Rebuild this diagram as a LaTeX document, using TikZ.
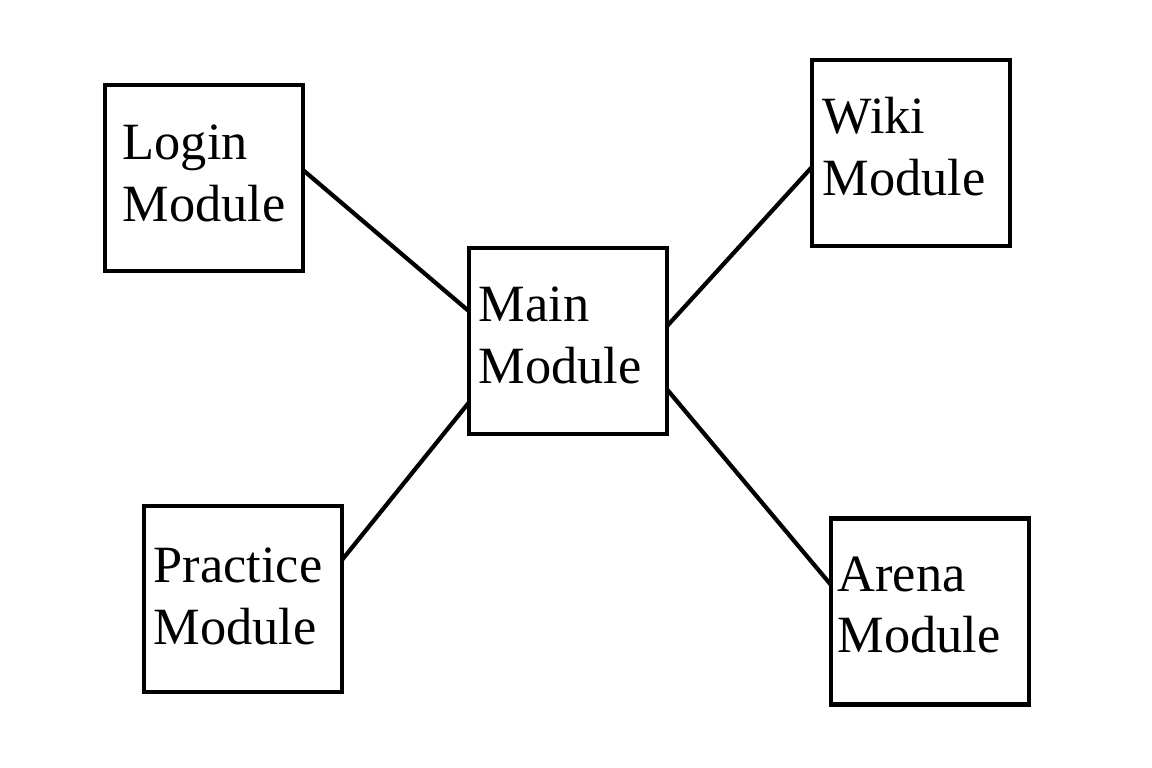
\documentclass[tikz,border=0pt]{standalone}
\usepackage{fontspec}
\setmainfont{Liberation Serif}
\usetikzlibrary{calc}
\begin{document}
\begin{tikzpicture}[module/.style={minimum width=1.98cm,minimum height=1.86cm,outer sep=0pt,draw=black,line width=1.35pt},
        modname/.style={anchor=base west,inner sep=0pt,align=left,font=\fontsize{14.9pt}{17.4pt}\selectfont},
        link/.style={line width=1.2pt}]
        \useasboundingbox (0,0) rectangle (11.52,-7.67);

        \node [module] at (2.04,-1.78) (Login) {};
        \node [module] at (5.68,-3.41) (Main) {};
        \node [module] at (9.11,-1.53) (Wiki) {};
        \node [module] at (2.43,-5.99) (Practice) {};
        \node [module] at (9.30,-6.115) (Arena) {};

        % base anchor sits on the second line
        \node [modname] at ($(Login.north west)+(.17,-1.36)$) (LoginText) {Login\\Module};
        \node [modname] at ($(Main.north west)+(.09,-1.35)$) (MainText) {Main\\Module};
        \node [modname] at ($(Wiki.north west)+(.10,-1.35)$) (WikiText) {Wiki\\Module};
        \node [modname] at ($(Practice.north west)+(.09,-1.38)$) (PracticeText) {Practice\\Module};
        \node [modname] at ($(Arena.north west)+(.06,-1.34)$) (ArenaText) {Arena\\Module};

        \draw [link] ($(Login.north east)!.457!(Login.south east)$) -- ($(Main.north west)!.34!(Main.south west)$);
        \draw [link] ($(Practice.north east)!.29!(Practice.south east)$) -- ($(Main.north west)!.83!(Main.south west)$);
        \draw [link] ($(Main.north east)!.42!(Main.south east)$) -- ($(Wiki.north west)!.575!(Wiki.south west)$);
        \draw [link] ($(Main.north east)!.76!(Main.south east)$) -- ($(Arena.north west)!.357!(Arena.south west)$);

\end{tikzpicture}
\end{document}
